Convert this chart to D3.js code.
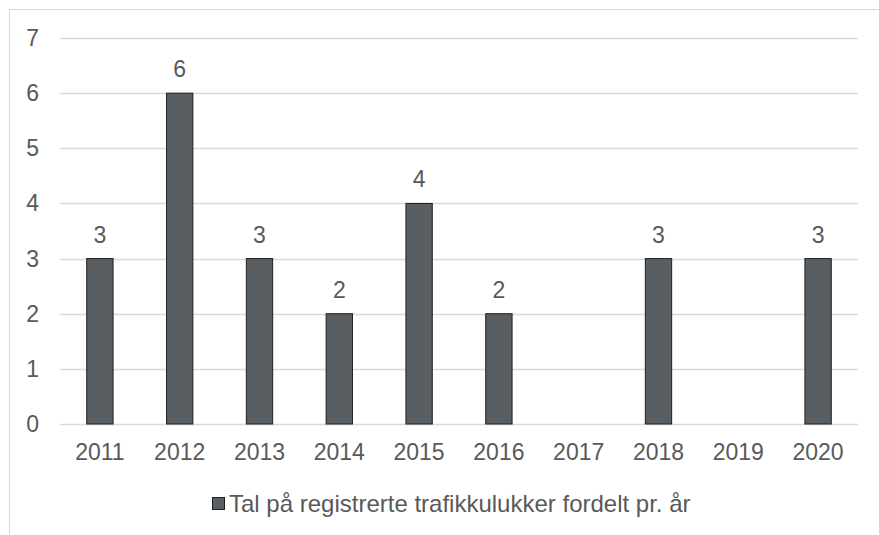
<!DOCTYPE html>
<html>
<head>
<meta charset="utf-8">
<script src="https://cdn.jsdelivr.net/npm/d3@7"></script>
<style>
  body { margin: 0; background: #fff; }
  text { font-family: "Liberation Sans", Arial, sans-serif; fill: #595959; }
</style>
</head>
<body>
<div id="chart"></div>
<script>
var years = ["2011", "2012", "2013", "2014", "2015", "2016", "2017", "2018", "2019", "2020"];
var counts = [3, 6, 3, 2, 4, 2, null, 3, null, 3];
var yTicks = [0, 1, 2, 3, 4, 5, 6, 7];
var seriesName = "Tal på registrerte trafikkulukker fordelt pr. år";

var width = 879, height = 535,
    plotLeft = 60, plotRight = 858, plotTop = 38, plotBottom = 424;

var svg = d3.select("#chart").append("svg")
    .attr("width", width).attr("height", height);

// chart area border (runs off the page on the right and bottom)
svg.append("rect")
    .attr("x", 9.5).attr("y", 9.5)
    .attr("width", 900).attr("height", 600)
    .attr("fill", "none").attr("stroke", "#d9d9d9");

var x = d3.scaleBand().domain(years).range([plotLeft, plotRight]).paddingInner(0.67).paddingOuter(0.335);
var y = d3.scaleLinear().domain([0, 7]).range([plotBottom, plotTop]);

// gridlines
svg.append("g").selectAll("line").data(yTicks).enter().append("line")
    .attr("x1", plotLeft).attr("x2", plotRight)
    .attr("y1", function(d) { return Math.round(y(d)) + 0.5; })
    .attr("y2", function(d) { return Math.round(y(d)) + 0.5; })
    .attr("stroke", "#d9d9d9").attr("stroke-width", 1.5);

// y labels
svg.append("g").selectAll("text").data(yTicks).enter().append("text")
    .attr("x", 39).attr("y", function(d) { return y(d); })
    .attr("dy", "0.35em").attr("text-anchor", "end")
    .style("font-size", "23px")
    .text(function(d) { return d; });

// x labels
svg.append("g").selectAll("text").data(years).enter().append("text")
    .attr("x", function(d) { return x(d) + x.bandwidth() / 2; })
    .attr("y", 460).attr("text-anchor", "middle")
    .style("font-size", "23px")
    .text(function(d) { return d; });

var data = years.map(function(yr, i) { return { year: yr, value: counts[i] }; })
    .filter(function(d) { return d.value != null; });

svg.append("g").selectAll("rect").data(data).enter().append("rect")
    .attr("x", function(d) { return x(d.year); })
    .attr("y", function(d) { return y(d.value); })
    .attr("width", x.bandwidth())
    .attr("height", function(d) { return y(0) - y(d.value); })
    .attr("fill", "#595e62").attr("stroke", "#1f1f1f").attr("stroke-width", 1);

svg.append("g").selectAll("text").data(data).enter().append("text")
    .attr("x", function(d) { return x(d.year) + x.bandwidth() / 2; })
    .attr("y", function(d) { return y(d.value) - 16; })
    .attr("text-anchor", "middle")
    .style("font-size", "23px")
    .text(function(d) { return d.value; });

// legend
var legend = svg.append("g").attr("transform", "translate(212,497)");
legend.append("rect").attr("x", 0.5).attr("y", 0.5).attr("width", 12).attr("height", 12)
    .attr("fill", "#595e62").attr("stroke", "#1f1f1f");
legend.append("text").attr("x", 17).attr("y", 15)
    .style("font-size", "24px")
    .text(seriesName);
</script>
</body>
</html>
